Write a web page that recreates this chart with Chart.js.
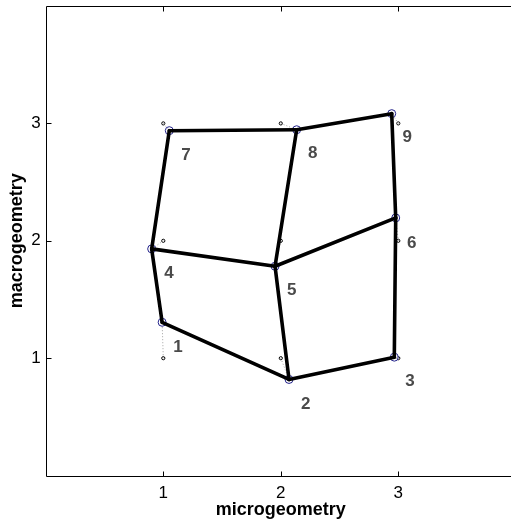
<!DOCTYPE html>
<html>
<head>
<meta charset="utf-8">
<script src="https://cdn.jsdelivr.net/npm/chart.js@4/dist/chart.umd.min.js"></script>
<style>
  html, body { margin: 0; padding: 0; background: #fff; overflow: hidden; }
  #wrap { width: 511px; height: 523px; overflow: hidden; }
</style>
</head>
<body>
<div id="wrap"><canvas id="c" width="560" height="523"></canvas></div>
<script>
// Regular grid positions of the nine cells
const gridX = [1, 2, 3, 1, 2, 3, 1, 2, 3];
const gridY = [1, 1, 1, 2, 2, 2, 3, 3, 3];

// Fitted node positions (microgeometry, macrogeometry)
const nodeX = [0.990, 2.070, 2.966, 0.901, 1.951, 2.978, 1.051, 2.135, 2.944];
const nodeY = [1.306, 0.819, 1.009, 1.931, 1.783, 2.195, 2.938, 2.946, 3.083];

// Node numbers and where they are written
const nodeLabels = ['1', '2', '3', '4', '5', '6', '7', '8', '9'];
const labelX = [1.125, 2.212, 3.100, 1.049, 2.093, 3.114, 1.194, 2.271, 3.077];
const labelY = [1.091, 0.610, 0.803, 1.727, 1.576, 1.982, 2.724, 2.742, 2.881];

// Neighbouring nodes joined by the mesh
const edges = [[1, 2], [2, 3], [1, 4], [2, 5], [3, 6], [4, 5], [5, 6], [4, 7], [5, 8], [6, 9], [7, 8], [8, 9]];

const tickValues = [1, 2, 3];
const xTitle = 'microgeometry';
const yTitle = 'macrogeometry';

const FONT = '"Liberation Sans", Arial, Helvetica, sans-serif';

const datasets = [];

// mesh edges (drawn on top)
edges.forEach(([a, b]) => {
  datasets.push({
    data: [{ x: nodeX[a - 1], y: nodeY[a - 1] }, { x: nodeX[b - 1], y: nodeY[b - 1] }],
    showLine: true, borderColor: '#000', borderWidth: 3.6, pointRadius: 0,
    borderCapStyle: 'round', borderJoinStyle: 'round', order: 1
  });
});

// fitted node markers
datasets.push({
  data: nodeX.map((x, i) => ({ x, y: nodeY[i] })),
  showLine: false, pointRadius: 4, pointStyle: 'circle',
  borderColor: '#22228a', backgroundColor: 'rgba(255,255,255,0.6)', pointBorderWidth: 1, order: 2
});

// dotted displacement from grid to node
gridX.forEach((gx, i) => {
  datasets.push({
    data: [{ x: gx, y: gridY[i] }, { x: nodeX[i], y: nodeY[i] }],
    showLine: true, borderColor: '#a0a0a0', borderWidth: 1, borderDash: [1, 2],
    pointRadius: 0, order: 3
  });
});

// grid reference dots
datasets.push({
  data: gridX.map((x, i) => ({ x, y: gridY[i] })),
  showLine: false, pointRadius: 1.6, pointStyle: 'circle',
  borderColor: '#000', backgroundColor: '#fff', pointBorderWidth: 1, order: 4
});

// axes box (left, top, bottom) with inward tick marks, plus node numbers
const framePlugin = {
  id: 'frame',
  beforeDatasetsDraw(chart) {
    const { ctx, chartArea: a, scales: { x, y } } = chart;
    const L = Math.round(a.left) + 0.5, T = Math.round(a.top) + 0.5, B = Math.round(a.bottom) + 0.5;
    ctx.save();
    ctx.strokeStyle = '#000';
    ctx.lineWidth = 1;
    ctx.beginPath();
    ctx.moveTo(a.right, T); ctx.lineTo(L, T); ctx.lineTo(L, B); ctx.lineTo(a.right, B);
    const len = 5;
    tickValues.forEach(v => {
      const px = Math.round(x.getPixelForValue(v)) + 0.5;
      ctx.moveTo(px, B); ctx.lineTo(px, B - len);
      ctx.moveTo(px, T); ctx.lineTo(px, T + len);
      const py = Math.round(y.getPixelForValue(v)) + 0.5;
      ctx.moveTo(L, py); ctx.lineTo(L + len, py);
    });
    ctx.stroke();
    ctx.restore();
  },
  afterDatasetsDraw(chart) {
    const { ctx, scales: { x, y } } = chart;
    ctx.save();
    ctx.fillStyle = '#4a4a4a';
    ctx.font = 'bold 17px ' + FONT;
    ctx.textAlign = 'center';
    ctx.textBaseline = 'middle';
    nodeLabels.forEach((t, i) => {
      ctx.fillText(t, x.getPixelForValue(labelX[i]), y.getPixelForValue(labelY[i]));
    });
    ctx.restore();
  }
};

function noPad(s) {
  s.paddingTop = 0; s.paddingBottom = 0; s.paddingLeft = 0; s.paddingRight = 0;
}

new Chart(document.getElementById('c'), {
  type: 'scatter',
  data: { datasets },
  plugins: [framePlugin],
  options: {
    responsive: false,
    animation: false,
    events: [],
    layout: { padding: { left: 0, top: 6, right: 44.2, bottom: 0 } },
    plugins: { legend: { display: false }, tooltip: { enabled: false } },
    scales: {
      x: {
        type: 'linear', min: 0, max: 4,
        afterBuildTicks: s => { s.ticks = tickValues.map(v => ({ value: v })); },
        afterFit: s => { s.height = 47.4; noPad(s); },
        grid: { display: false, drawTicks: false },
        border: { display: false },
        ticks: { color: '#000', padding: 8, font: { family: FONT, size: 17 } },
        title: { display: true, text: xTitle, color: '#000', padding: { top: 0, bottom: 2 },
                 font: { family: FONT, size: 18, weight: 'bold' } }
      },
      y: {
        type: 'linear', min: 0, max: 4,
        afterBuildTicks: s => { s.ticks = tickValues.map(v => ({ value: v })); },
        afterFit: s => { s.width = 45.8; noPad(s); },
        grid: { display: false, drawTicks: false },
        border: { display: false },
        ticks: { color: '#000', padding: 5, font: { family: FONT, size: 17 } },
        title: { display: true, text: yTitle, color: '#000', padding: { top: 6.5, bottom: 0 },
                 font: { family: FONT, size: 18, weight: 'bold' } }
      }
    }
  }
});
</script>
</body>
</html>
